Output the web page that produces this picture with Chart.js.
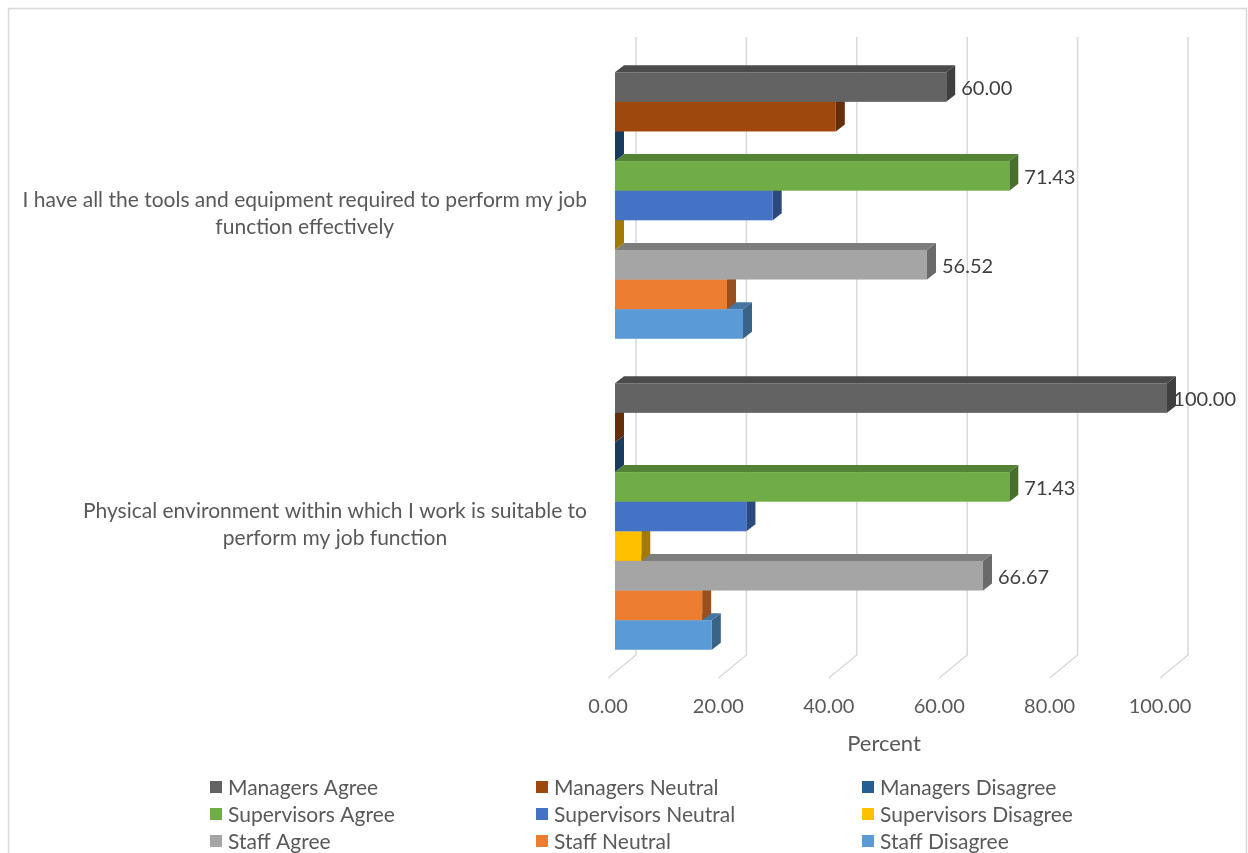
<!DOCTYPE html>
<html>
<head>
<meta charset="utf-8">
<title>Work environment survey</title>
<script src="https://cdn.jsdelivr.net/npm/chart.js@4.4.0/dist/chart.umd.min.js"></script>
<style>
  html, body { margin: 0; padding: 0; background: #ffffff; }
  #wrap { position: relative; width: 1248px; height: 853px; }
</style>
</head>
<body>
<div id="wrap"><canvas id="surveyChart"></canvas></div>
<script>
// questions (each one split into its two display lines)
var questions = [
    ['I have all the tools and equipment required to perform my job', 'function effectively'],
    ['Physical environment within which I work is suitable to', 'perform my job function']
];

var seriesNames = [
    'Managers Agree', 'Managers Neutral', 'Managers Disagree',
    'Supervisors Agree', 'Supervisors Neutral', 'Supervisors Disagree',
    'Staff Agree', 'Staff Neutral', 'Staff Disagree'
];
var seriesColors = [
    '#636363', '#9E480E', '#255E91',
    '#70AD47', '#4472C4', '#FFC000',
    '#A5A5A5', '#ED7D31', '#5B9BD5'
];

// percent per question
var managersAgree = [60.00, 100.00];
var managersNeutral = [40.00, 0];
var managersDisagree = [0, 0];
var supervisorsAgree = [71.43, 71.43];
var supervisorsNeutral = [28.57, 23.81];
var supervisorsDisagree = [0, 4.76];
var staffAgree = [56.52, 66.67];
var staffNeutral = [20.29, 15.79];
var staffDisagree = [23.19, 17.54];

var seriesValues = [
    managersAgree, managersNeutral, managersDisagree,
    supervisorsAgree, supervisorsNeutral, supervisorsDisagree,
    staffAgree, staffNeutral, staffDisagree
];
// only the "Agree" series carry value labels
var labelledSeries = [0, 3, 6];

var tickValues = [0, 20, 40, 60, 80, 100];
var axisTitle = 'Percent';

var FONT = 'Lato, "Open Sans", sans-serif';
var TEXT = '#595959';
var GRID = '#d9d9d9';
var DX = 9, DY = 7;          // depth of the bars
var WALL_X = 21;             // back wall offset for gridlines
var FLOOR_X = -7;            // floor front edge offset (tick labels sit here)
var LABEL_LIMIT = 1236;      // value labels are kept inside the frame

function shade(hex, f) {
    var n = parseInt(hex.slice(1), 16);
    var r = Math.round(((n >> 16) & 255) * f);
    var g = Math.round(((n >> 8) & 255) * f);
    var b = Math.round((n & 255) * f);
    return 'rgb(' + r + ',' + g + ',' + b + ')';
}

function poly(ctx, pts) {
    ctx.beginPath();
    ctx.moveTo(pts[0][0], pts[0][1]);
    for (var i = 1; i < pts.length; i++) ctx.lineTo(pts[i][0], pts[i][1]);
    ctx.closePath();
    ctx.fill();
}

var frame = {
    id: 'frame',
    beforeDraw: function (chart) {
        var ctx = chart.ctx;
        ctx.save();
        ctx.strokeStyle = GRID;
        ctx.lineWidth = 1.5;
        ctx.strokeRect(8.5, 8.5, 1238, 900);
        ctx.restore();
    }
};

var bars3d = {
    id: 'bars3d',
    beforeDatasetsDraw: function (chart) {
        var ctx = chart.ctx;
        var xs = chart.scales.x;
        var area = chart.chartArea;
        ctx.save();

        // gridlines on the back wall, bending forward along the floor
        ctx.strokeStyle = GRID;
        ctx.lineWidth = 1.5;
        tickValues.forEach(function (v) {
            var xf = xs.getPixelForValue(v);
            var xb = xf + WALL_X;
            ctx.beginPath();
            ctx.moveTo(xb, area.top - 13);
            ctx.lineTo(xb, area.bottom - 17);
            ctx.lineTo(xf + FLOOR_X, area.bottom + 6);
            ctx.stroke();
        });

        // bottom series first so upper bars hide the top faces below them
        for (var d = chart.data.datasets.length - 1; d >= 0; d--) {
            var color = chart.data.datasets[d].backgroundColor;
            chart.getDatasetMeta(d).data.forEach(function (bar) {
                var p = bar.getProps(['x', 'y', 'base', 'height'], true);
                var x0 = p.base, x1 = p.x;
                var top = p.y - p.height / 2, bot = p.y + p.height / 2;
                ctx.fillStyle = shade(color, 0.76);
                poly(ctx, [[x0, top], [x0 + DX, top - DY], [x1 + DX, top - DY], [x1, top]]);
                ctx.fillStyle = shade(color, 0.64);
                poly(ctx, [[x1, top], [x1 + DX, top - DY], [x1 + DX, bot - DY], [x1, bot]]);
                ctx.fillStyle = color;
                ctx.fillRect(x0, top, x1 - x0, bot - top);
            });
        }

        // value labels
        ctx.font = '20px ' + FONT;
        ctx.fillStyle = '#404040';
        ctx.textAlign = 'left';
        ctx.textBaseline = 'middle';
        labelledSeries.forEach(function (d) {
            chart.getDatasetMeta(d).data.forEach(function (bar, i) {
                var p = bar.getProps(['x', 'y'], true);
                var txt = chart.data.datasets[d].data[i].toFixed(2);
                var tx = Math.min(p.x + DX + 6, LABEL_LIMIT - ctx.measureText(txt).width);
                ctx.fillText(txt, tx, p.y + 2);
            });
        });
        ctx.restore();
        return false;
    }
};

var sideText = {
    id: 'sideText',
    afterDraw: function (chart) {
        var ctx = chart.ctx;
        var ys = chart.scales.y;
        var xs = chart.scales.x;
        ctx.save();
        ctx.fillStyle = TEXT;
        ctx.textBaseline = 'middle';

        // axis title, centred under the floor edge
        ctx.font = '22px ' + FONT;
        ctx.textAlign = 'center';
        ctx.fillText(axisTitle, xs.getPixelForValue(50) + FLOOR_X, 744);

        // question labels, lines centred on each other, block right-aligned
        ctx.font = '21px ' + FONT;
        var lineH = 27;
        questions.forEach(function (lines, i) {
            var y = ys.getPixelForTick(i) + 8;
            var w = Math.max.apply(null, lines.map(function (s) { return ctx.measureText(s).width; }));
            var cx = 587 - w / 2;
            var y0 = y - (lines.length - 1) * lineH / 2;
            lines.forEach(function (s, k) { ctx.fillText(s, cx, y0 + k * lineH); });
        });

        // legend, three columns
        ctx.textAlign = 'left';
        var colX = [210, 536, 862];
        var rowY = [787, 814, 841];
        seriesNames.forEach(function (name, i) {
            var x = colX[i % 3], y = rowY[Math.floor(i / 3)];
            ctx.fillStyle = seriesColors[i];
            ctx.fillRect(x, y - 6, 12, 12);
            ctx.fillStyle = TEXT;
            ctx.fillText(name, x + 18, y + 1);
        });
        ctx.restore();
    }
};

var ctx = document.getElementById('surveyChart').getContext('2d');
new Chart(ctx, {
    type: 'bar',
    data: {
        labels: questions,
        datasets: seriesNames.map(function (name, i) {
            return {
                label: name,
                data: seriesValues[i],
                backgroundColor: seriesColors[i],
                borderWidth: 0
            };
        })
    },
    options: {
        indexAxis: 'y',
        responsive: true,
        maintainAspectRatio: false,
        animation: false,
        datasets: {
            bar: { categoryPercentage: 0.857, barPercentage: 1 }
        },
        layout: {
            padding: { left: 615, right: 81, top: 50, bottom: 81 }
        },
        scales: {
            x: {
                min: 0,
                max: 100,
                afterFit: function (s) {
                    s.height = 100;
                    s.paddingLeft = 0;
                    s.paddingRight = 0;
                },
                grid: { display: false, drawTicks: false },
                border: { display: false },
                ticks: {
                    stepSize: 20,
                    padding: 23,
                    labelOffset: FLOOR_X,
                    color: TEXT,
                    font: { family: FONT, size: 20 },
                    callback: function (v) { return Number(v).toFixed(2); }
                }
            },
            y: {
                display: false
            }
        },
        plugins: {
            legend: { display: false },
            tooltip: { enabled: false }
        }
    },
    plugins: [frame, bars3d, sideText]
});
</script>
</body>
</html>
